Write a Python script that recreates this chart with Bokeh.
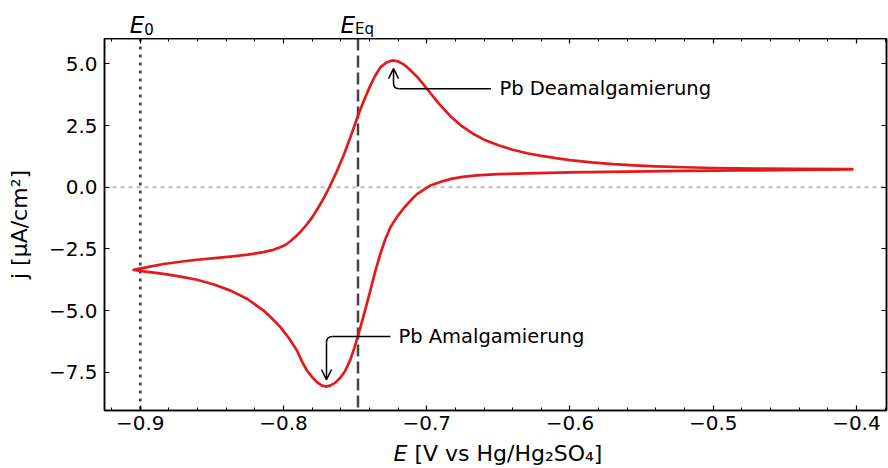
import numpy as np
from bokeh.plotting import figure
from bokeh.layouts import column
from bokeh.models import (Range1d, LinearAxis, Span, Label, Arrow, OpenHead,
                          FixedTicker, CustomJSTickFormatter)
from bokeh.core.properties import value
from bokeh.embed import file_html
from bokeh.resources import INLINE

# ---------------- data ----------------
# cathodic sweep: from the upper vertex towards negative potentials
e_cath = [-0.402, -0.44, -0.48, -0.52, -0.56, -0.60, -0.63, -0.65, -0.665,
          -0.675, -0.683, -0.690, -0.6975, -0.702, -0.7068, -0.711, -0.7161,
          -0.7205, -0.7254, -0.729, -0.7324, -0.736, -0.7394, -0.7435,
          -0.7476, -0.7505, -0.7534, -0.757, -0.7603, -0.764, -0.7675,
          -0.7705, -0.7735, -0.7766, -0.780, -0.7836, -0.787, -0.7906,
          -0.7964, -0.8022, -0.808, -0.8139, -0.8255, -0.837, -0.848,
          -0.8604, -0.872, -0.8837, -0.895, -0.9047]
j_cath = [0.72, 0.70, 0.68, 0.66, 0.63, 0.60, 0.56, 0.53, 0.48,
          0.42, 0.34, 0.22, 0.07, -0.10, -0.28, -0.52, -0.85,
          -1.18, -1.62, -2.12, -2.70, -3.42, -4.19, -5.08,
          -5.94, -6.50, -7.00, -7.45, -7.72, -7.93, -8.04,
          -8.08, -8.03, -7.90, -7.70, -7.43, -7.08, -6.62,
          -6.10, -5.67, -5.32, -5.00, -4.52, -4.19, -3.95,
          -3.75, -3.62, -3.51, -3.43, -3.35]
# anodic sweep: back from the lower vertex towards positive potentials
e_anod = [-0.9047, -0.895, -0.8837, -0.872, -0.8604, -0.848, -0.837, -0.825,
          -0.8139, -0.808, -0.8022, -0.7985, -0.795, -0.7915, -0.788, -0.785,
          -0.780, -0.776, -0.772, -0.768, -0.763, -0.758, -0.753, -0.748,
          -0.744, -0.7394, -0.736, -0.7324, -0.728, -0.7242, -0.720, -0.716,
          -0.712, -0.7068, -0.702, -0.6975, -0.692, -0.6835, -0.676, -0.668,
          -0.660, -0.650, -0.640, -0.630, -0.620, -0.610, -0.600, -0.585,
          -0.570, -0.555, -0.540, -0.520, -0.500, -0.470, -0.440, -0.402]
j_anod = [-3.35, -3.24, -3.11, -3.02, -2.94, -2.87, -2.81, -2.73,
          -2.63, -2.55, -2.43, -2.33, -2.18, -2.00, -1.80, -1.60,
          -1.22, -0.85, -0.45, 0.00, 0.62, 1.30, 2.08, 2.90,
          3.50, 4.12, 4.52, 4.86, 5.06, 5.14, 5.10, 4.98,
          4.78, 4.48, 4.15, 3.82, 3.42, 2.88, 2.50, 2.18,
          1.93, 1.70, 1.52, 1.38, 1.27, 1.18, 1.10, 1.01,
          0.94, 0.89, 0.85, 0.81, 0.78, 0.76, 0.75, 0.74]

E0 = -0.9
E_EQ = -0.748
x_ticks = [-0.9, -0.8, -0.7, -0.6, -0.5, -0.4]
x_minor = [-0.92, -0.88, -0.86, -0.84, -0.82, -0.78, -0.76, -0.74, -0.72,
           -0.68, -0.66, -0.64, -0.62, -0.58, -0.56, -0.54, -0.52,
           -0.48, -0.46, -0.44, -0.42, -0.38]
y_ticks = [-7.5, -5.0, -2.5, 0.0, 2.5, 5.0]

label_ox = "Pb Deamalgamierung"
label_red = "Pb Amalgamierung"

# ---------------- layout constants ----------------
FONT = "DejaVu Sans"
RED = "#e31a1c"
W = 888
TOP_H = 38      # strip above the frame (E0 / E_Eq labels)
FRAME_H = 372
BOT_B = 29      # bottom border of main plot (tick labels)
BOT_H = 29      # strip below (x-axis label)
LB, RB = 104, 2

xr = Range1d(-0.925, -0.379)

# ---------------- main figure ----------------
p = figure(width=W, height=FRAME_H + BOT_B, title=None,
           x_range=xr, y_range=Range1d(-9.05, 6.03),
           output_backend="svg", toolbar_location=None,
           min_border_left=LB, min_border_right=RB,
           min_border_top=0, min_border_bottom=BOT_B)
p.xgrid.visible = False
p.ygrid.visible = False
p.background_fill_color = "white"
p.border_fill_color = "white"
p.outline_line_color = "black"
p.outline_line_width = 1.5

fmt = CustomJSTickFormatter(code="""
    const a = Math.abs(tick).toFixed(1);
    return (tick < -1e-9 ? "\\u2212" : "") + a;
""")
blank = CustomJSTickFormatter(code="return '';")

xt = FixedTicker(ticks=x_ticks, minor_ticks=x_minor)
yt = FixedTicker(ticks=y_ticks, minor_ticks=[])

p.xaxis.ticker = xt
p.yaxis.ticker = yt
p.xaxis.formatter = fmt
p.yaxis.formatter = fmt

p.add_layout(LinearAxis(ticker=xt, formatter=blank), "above")
p.add_layout(LinearAxis(ticker=yt, formatter=blank), "right")

for ax in p.axis:
    ax.major_tick_in = 5
    ax.major_tick_out = 0
    ax.minor_tick_in = 3
    ax.minor_tick_out = 0
    ax.major_tick_line_width = 1.2
    ax.minor_tick_line_width = 1.0
    ax.major_tick_line_color = "black"
    ax.minor_tick_line_color = "black"
    ax.axis_line_color = "black"
    ax.axis_line_width = 1.5
    ax.major_label_text_font = FONT
    ax.major_label_text_font_size = "20px"
    ax.major_label_text_color = "black"

for ax in (p.above[0], p.right[0]):
    ax.major_label_standoff = 0
    ax.major_label_text_font_size = "0px"
p.xaxis[0].major_label_standoff = 6
p.yaxis[0].major_label_standoff = 7

p.yaxis[0].axis_label = "j [μA/cm²]"
p.yaxis[0].axis_label_text_font = FONT
p.yaxis[0].axis_label_text_font_size = "22px"
p.yaxis[0].axis_label_text_font_style = "normal"
p.yaxis[0].axis_label_text_color = "black"
p.yaxis[0].axis_label_standoff = 14

# reference lines
p.add_layout(Span(location=0, dimension="width", line_color="#c0c0c0",
                  line_dash="4 4", line_width=2, level="underlay"))
p.add_layout(Span(location=E0, dimension="height", line_color="#3a3a3a",
                  line_dash="3 5", line_width=2.5, level="underlay"))
p.add_layout(Span(location=E_EQ, dimension="height", line_color="#444444",
                  line_dash="12 5", line_width=2.5, level="underlay"))

# CV curve
e_all = e_cath + e_anod[1:]
j_all = j_cath + j_anod[1:]
p.line(e_all, j_all, line_color=RED, line_width=2.7, line_join="round")

# ---------------- annotations ----------------
ia = int(np.argmax(j_anod))
pax, pay = e_anod[ia], j_anod[ia]
ic = int(np.argmin(j_cath))
pcx, pcy = e_cath[ic], j_cath[ic]

rx, ry = 0.0042, 0.24   # corner radius in data units

# oxidation peak annotation
tipx, tipy = pax + 0.001, pay - 0.33
elb = pay - 1.15
p.add_layout(Arrow(x_start=tipx, y_start=elb + ry, x_end=tipx, y_end=tipy,
                   line_color="black", line_width=1.5,
                   end=OpenHead(size=10, line_width=1.5, line_color="black")))
p.quadratic(x0=[tipx], y0=[elb + ry], cx=[tipx], cy=[elb],
            x1=[tipx + rx], y1=[elb], line_color="black", line_width=1.5)
txa = pax + 0.075
p.line([tipx + rx, txa - 0.006], [elb, elb], line_color="black", line_width=1.5)
p.add_layout(Label(x=txa, y=elb, text=label_ox, text_font=FONT,
                   text_font_size="19.5px", text_baseline="middle",
                   text_color="black"))

# reduction peak annotation
tipx2, tipy2 = pcx + 0.0005, pcy + 0.28
elb2 = pcy + 2.03
p.add_layout(Arrow(x_start=tipx2, y_start=elb2 - ry, x_end=tipx2, y_end=tipy2,
                   line_color="black", line_width=1.5,
                   end=OpenHead(size=10, line_width=1.5, line_color="black")))
p.quadratic(x0=[tipx2], y0=[elb2 - ry], cx=[tipx2], cy=[elb2],
            x1=[tipx2 + rx], y1=[elb2], line_color="black", line_width=1.5)
txc = pcx + 0.0507
p.line([tipx2 + rx, txc - 0.0056], [elb2, elb2], line_color="black", line_width=1.5)
p.add_layout(Label(x=txc, y=elb2, text=label_red, text_font=FONT,
                   text_font_size="19.5px", text_baseline="middle",
                   text_color="black"))


def strip(height):
    f = figure(width=W, height=height, x_range=xr, title=None,
               y_range=Range1d(0, height), output_backend="svg",
               toolbar_location=None, x_axis_location=None,
               y_axis_location=None, min_border_left=LB,
               min_border_right=RB, min_border_top=0, min_border_bottom=0)
    f.xgrid.visible = False
    f.ygrid.visible = False
    f.outline_line_color = None
    f.background_fill_color = "white"
    f.border_fill_color = "white"
    return f


# ---------------- strip above: E0 / E_Eq ----------------
# y is measured in pixels upward from the frame top of the main plot
pt = strip(TOP_H)
lx = [E0, E_EQ]
lsub = ["0", "Eq"]
loff = [4, -3]
pt.text(x=lx, y=[14, 14], text=["E", "E"], x_offset=loff,
        text_font=value(FONT), text_font_size="23px",
        text_font_style="italic", text_align="right",
        text_baseline="middle", text_color="black")
pt.text(x=lx, y=[9.5, 9.5], text=lsub, x_offset=loff,
        text_font=value(FONT), text_font_size="15px",
        text_align="left", text_baseline="middle", text_color="black")

# ---------------- strip below: x-axis label ----------------
pb = strip(BOT_H)
xsplit = -0.7135
pb.text(x=[xsplit], y=[15], text=["E"], text_font=value(FONT),
        text_font_size="22px", text_font_style="italic", text_align="right",
        text_baseline="middle", text_color="black")
pb.text(x=[xsplit], y=[15], text=["[V vs Hg/Hg₂SO₄]"], x_offset=[7],
        text_font=value(FONT), text_font_size="22px", text_align="left",
        text_baseline="middle", text_color="black")

layout = column(pt, p, pb, spacing=0)
open("out.html", "w").write(file_html(layout, INLINE))
